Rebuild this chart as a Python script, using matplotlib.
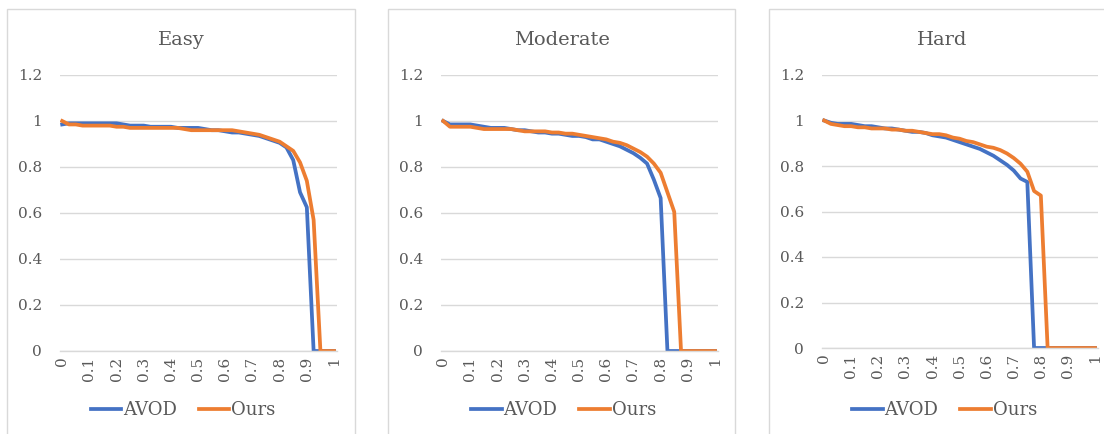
import matplotlib
matplotlib.use('Agg')
import matplotlib.pyplot as plt
from matplotlib.patches import Rectangle
import numpy as np

plt.rcParams['font.family'] = ['DejaVu Serif']

# recall grid (41 points, excel category axis)
recall = np.linspace(0, 1, 41)
tick_vals = [0, 0.1, 0.2, 0.3, 0.4, 0.5, 0.6, 0.7, 0.8, 0.9, 1]
tick_labels = ['0', '0.1', '0.2', '0.3', '0.4', '0.5', '0.6', '0.7', '0.8', '0.9', '1']
y_ticks = [0, 0.2, 0.4, 0.6, 0.8, 1.0, 1.2]
y_labels = ['0', '0.2', '0.4', '0.6', '0.8', '1', '1.2']

easy_avod = [0.985, 0.99, 0.99, 0.99, 0.99, 0.99, 0.99, 0.99, 0.99, 0.985,
             0.98, 0.98, 0.98, 0.975, 0.975, 0.975, 0.975, 0.97, 0.97, 0.97,
             0.97, 0.965, 0.96, 0.96, 0.955, 0.95, 0.95, 0.945, 0.94, 0.935,
             0.925, 0.915, 0.905, 0.885, 0.83, 0.69, 0.625, 0, 0, 0, 0]
easy_ours = [1.0, 0.985, 0.985, 0.98, 0.98, 0.98, 0.98, 0.98, 0.975, 0.975,
             0.97, 0.97, 0.97, 0.97, 0.97, 0.97, 0.97, 0.97, 0.965, 0.96,
             0.96, 0.96, 0.96, 0.96, 0.96, 0.96, 0.955, 0.95, 0.945, 0.94,
             0.93, 0.92, 0.91, 0.89, 0.87, 0.82, 0.74, 0.57, 0, 0, 0]

mod_avod = [1.0, 0.985, 0.985, 0.985, 0.985, 0.98, 0.975, 0.97, 0.97, 0.97,
            0.965, 0.96, 0.96, 0.955, 0.95, 0.95, 0.945, 0.945, 0.94, 0.935,
            0.935, 0.93, 0.92, 0.92, 0.91, 0.9, 0.89, 0.875, 0.86, 0.84,
            0.815, 0.745, 0.665, 0, 0, 0, 0, 0, 0, 0, 0]
mod_ours = [1.0, 0.975, 0.975, 0.975, 0.975, 0.97, 0.965, 0.965, 0.965, 0.965,
            0.965, 0.96, 0.955, 0.955, 0.955, 0.955, 0.95, 0.95, 0.945, 0.945,
            0.94, 0.935, 0.93, 0.925, 0.92, 0.91, 0.905, 0.895, 0.88, 0.865,
            0.845, 0.815, 0.775, 0.69, 0.605, 0, 0, 0, 0, 0, 0]

hard_avod = [1.0, 0.99, 0.985, 0.985, 0.985, 0.98, 0.975, 0.975, 0.97, 0.965,
             0.965, 0.96, 0.955, 0.95, 0.95, 0.945, 0.935, 0.93, 0.925, 0.915,
             0.905, 0.895, 0.885, 0.875, 0.86, 0.845, 0.825, 0.805, 0.78, 0.745,
             0.73, 0, 0, 0, 0, 0, 0, 0, 0, 0, 0]
hard_ours = [1.0, 0.985, 0.98, 0.975, 0.975, 0.97, 0.97, 0.965, 0.965, 0.965,
             0.96, 0.96, 0.955, 0.955, 0.95, 0.945, 0.94, 0.94, 0.935, 0.925,
             0.92, 0.91, 0.905, 0.895, 0.885, 0.88, 0.87, 0.855, 0.835, 0.81,
             0.775, 0.69, 0.67, 0, 0, 0, 0, 0, 0, 0, 0]

titles = ['Easy', 'Moderate', 'Hard']
series = [(easy_avod, easy_ours), (mod_avod, mod_ours), (hard_avod, hard_ours)]

blue = '#4472C4'
orange = '#ED7D31'
grid_c = '#D9D9D9'
txt_c = '#595959'

W, H = 1104, 434
fig = plt.figure(figsize=(W / 100, H / 100), dpi=100)

# pixel layout: (box left, box right, axes left, axes right, y0 pixel, y1.2 pixel)
layout = [(7, 355, 60, 337, 351, 75),
          (388, 735, 441, 718, 351, 75),
          (769, 1116, 822, 1098, 348, 75)]

for (bl, br, al, ar, y0, y1), title, (avod, ours) in zip(layout, titles, series):
    fig.patches.append(Rectangle((bl / W, -0.1), (br - bl) / W, 1.1 - 9 / H,
                                 transform=fig.transFigure, fill=False,
                                 edgecolor=grid_c, lw=1))
    ax = fig.add_axes([al / W, (H - y0) / H, (ar - al) / W, (y0 - y1) / H])
    ax.plot(recall, avod, color=blue, lw=2.7, label='AVOD', solid_joinstyle='round')
    ax.plot(recall, ours, color=orange, lw=2.7, label='Ours', solid_joinstyle='round')
    ax.set_xlim(-0.008, 1.011)
    ax.set_ylim(0, 1.2)
    ax.set_yticks(y_ticks)
    ax.set_yticklabels(y_labels)
    ax.set_xticks(tick_vals)
    ax.set_xticklabels(tick_labels, rotation=90, va='top', ha='center')
    ax.tick_params(axis='y', length=0, pad=13, labelsize=11, labelcolor=txt_c)
    ax.tick_params(axis='x', length=0, pad=4, labelsize=11, labelcolor=txt_c)
    ax.grid(axis='y', color=grid_c, lw=1)
    ax.set_axisbelow(True)
    for s in ['top', 'right', 'left']:
        ax.spines[s].set_visible(False)
    ax.spines['bottom'].set_color(grid_c)
    ax.spines['bottom'].set_linewidth(1)
    cx = (bl + br) / 2 / W
    fig.text(cx, 1 - 40 / H, title, ha='center', va='center', fontsize=14, color=txt_c)
    fig.legend(handles=ax.get_lines(), loc='center', bbox_to_anchor=(cx + 2 / W, 1 - 410 / H),
               ncol=2, frameon=False, fontsize=13, labelcolor=txt_c,
               handlelength=1.7, handletextpad=0.1, columnspacing=1.2)

fig.savefig('out.png', dpi=100)
